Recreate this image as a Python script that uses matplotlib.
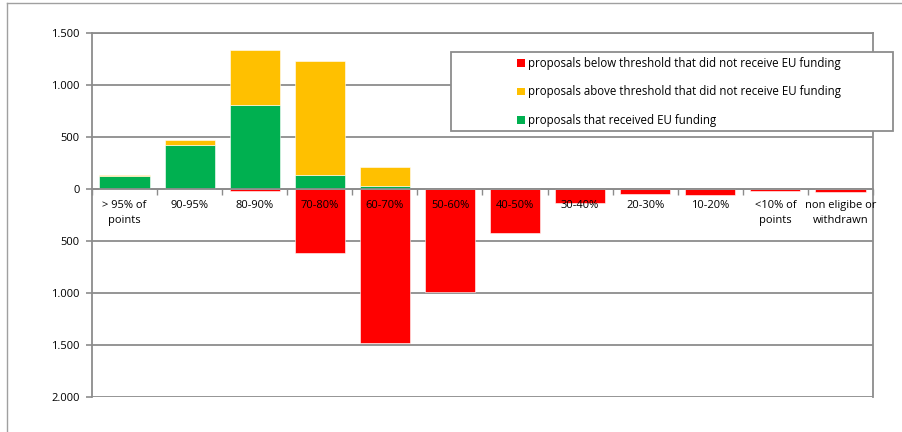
import numpy as np
import matplotlib.pyplot as plt
import matplotlib.transforms as mtransforms
from matplotlib.ticker import FuncFormatter
from matplotlib.patches import Rectangle, Patch
from matplotlib.lines import Line2D

plt.rcParams['font.family'] = ['Open Sans', 'DejaVu Sans']

categories = ['> 95% of\npoints', '90-95%', '80-90%', '70-80%', '60-70%', '50-60%',
              '40-50%', '30-40%', '20-30%', '10-20%', '<10% of\npoints',
              'non eligibe or\nwithdrawn']
funded = [125, 423, 806, 135, 25, 0, 0, 0, 0, 0, 0, 0]
above_not_funded = [10, 47, 530, 1095, 185, 0, 0, 0, 0, 0, 0, 0]
below_threshold = [0, 0, -20, -615, -1480, -990, -425, -135, -50, -57, -20, -30]

labels = ['proposals below threshold that did not receive EU funding',
          'proposals above threshold that did not receive EU funding',
          'proposals that received EU funding']
colors = ['#FF0000', '#FFC000', '#00B050']
grid_c = '#8C8C8C'

W, H = 903, 432
fig = plt.figure(figsize=(W / 100, H / 100), dpi=100)
ax = fig.add_axes([92 / W, 1 - 397 / H, 781 / W, 364 / H])

x = np.arange(len(categories))
ax.bar(x, funded, width=0.77, color=colors[2], edgecolor='white', linewidth=0.4, zorder=3)
ax.bar(x, above_not_funded, width=0.77, bottom=funded, color=colors[1],
       edgecolor='white', linewidth=0.4, zorder=3)
ax.bar(x, below_threshold, width=0.77, color=colors[0], edgecolor='white', linewidth=0.4, zorder=3)

ax.set_xlim(-0.5, len(categories) - 0.5)
ax.set_ylim(-2000, 1500)
ax.set_yticks(np.arange(-2000, 1501, 500))
ax.yaxis.set_major_formatter(FuncFormatter(lambda v, p: '{:,.0f}'.format(abs(v)).replace(',', '.')))
ax.grid(axis='y', color=grid_c, lw=1.3, zorder=0)
ax.tick_params(axis='y', length=4, width=1.2, color=grid_c, labelsize=8, pad=5)

# category axis sits on the zero line
ax.spines['bottom'].set_position(('data', 0))
ax.spines['bottom'].set_color(grid_c)
ax.spines['bottom'].set_linewidth(1.3)
ax.spines['bottom'].set_zorder(4)
ax.set_xticks(np.arange(-0.5, len(categories), 1))
ax.set_xticklabels([])
ax.tick_params(axis='x', which='major', length=4, width=1, color=grid_c, direction='out')

# category labels drawn on top of the bars
offset = mtransforms.ScaledTranslation(0, -8 / 72, fig.dpi_scale_trans)
for xi, cat in zip(x, categories):
    ax.text(xi, 0, cat, transform=ax.transData + offset, ha='center', va='top',
            fontsize=8, linespacing=1.45, zorder=6, clip_on=False)

for s in ['left', 'top', 'right']:
    ax.spines[s].set_color(grid_c)
    ax.spines[s].set_linewidth(1.3)

# legend box
fig.add_artist(Rectangle((451 / W, 1 - 131 / H), 442 / W, 79 / H, transform=fig.transFigure,
                         facecolor='white', edgecolor=grid_c, lw=1.3, zorder=10))
handles = [Patch(facecolor=c) for c in colors]
fig.legend(handles, labels, loc='center', bbox_to_anchor=(679 / W, 1 - 92 / H),
           frameon=False, fontsize=8.3, handlelength=0.65, handleheight=0.65,
           handletextpad=0.3, labelspacing=1.35).set_zorder(11)

# outer chart frame
fig.add_artist(Line2D([7 / W, 7 / W], [0, 1 - 3 / H], color='#A0A0A0', lw=1))
fig.add_artist(Line2D([7 / W, 1], [1 - 3 / H, 1 - 3 / H], color='#A0A0A0', lw=1))

fig.savefig('out.png', dpi=100)
